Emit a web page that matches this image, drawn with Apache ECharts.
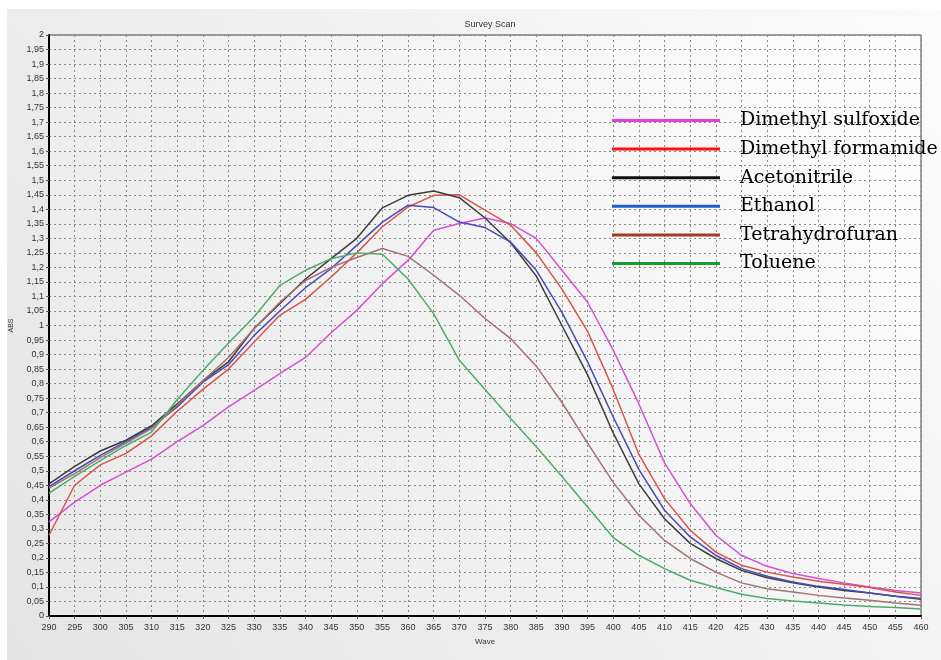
<!DOCTYPE html>
<html>
<head>
<meta charset="utf-8">
<script src="https://cdn.jsdelivr.net/npm/echarts@6/dist/echarts.min.js"></script>
<style>html,body{margin:0;padding:0;background:#fff}#c{width:941px;height:660px}</style>
</head>
<body>
<div id="c"></div>
<script>
const waves = [290,295,300,305,310,315,320,325,330,335,340,345,350,355,360,365,370,375,380,385,390,395,400,405,410,415,420,425,430,435,440,445,450,455,460];
const dmso = [0.324,0.392,0.45,0.495,0.54,0.60,0.655,0.72,0.777,0.834,0.89,0.975,1.052,1.144,1.224,1.328,1.351,1.37,1.351,1.30,1.19,1.08,0.915,0.73,0.527,0.387,0.278,0.209,0.171,0.146,0.129,0.114,0.10,0.088,0.079];
const dmf = [0.278,0.45,0.52,0.56,0.62,0.705,0.78,0.85,0.943,1.035,1.09,1.167,1.25,1.34,1.408,1.448,1.45,1.397,1.345,1.25,1.125,0.98,0.78,0.556,0.404,0.295,0.22,0.175,0.151,0.134,0.12,0.109,0.098,0.083,0.071];
const acetonitrile = [0.455,0.515,0.568,0.605,0.655,0.73,0.81,0.875,0.99,1.075,1.16,1.23,1.30,1.405,1.448,1.463,1.44,1.37,1.285,1.17,1.00,0.83,0.63,0.455,0.335,0.25,0.198,0.157,0.132,0.114,0.10,0.088,0.079,0.068,0.058];
const ethanol = [0.445,0.50,0.553,0.60,0.65,0.72,0.805,0.865,0.966,1.05,1.13,1.196,1.276,1.356,1.414,1.406,1.356,1.337,1.287,1.19,1.045,0.875,0.685,0.505,0.364,0.272,0.209,0.163,0.137,0.117,0.102,0.091,0.079,0.068,0.06];
const thf = [0.44,0.49,0.545,0.595,0.645,0.725,0.81,0.89,0.99,1.08,1.155,1.20,1.234,1.265,1.238,1.173,1.104,1.024,0.955,0.86,0.735,0.595,0.46,0.347,0.26,0.198,0.151,0.114,0.094,0.083,0.071,0.062,0.054,0.045,0.037];
const toluene = [0.423,0.481,0.535,0.587,0.633,0.745,0.845,0.94,1.03,1.138,1.19,1.23,1.25,1.245,1.16,1.04,0.88,0.78,0.68,0.583,0.48,0.375,0.27,0.209,0.163,0.123,0.098,0.075,0.06,0.052,0.045,0.038,0.033,0.029,0.024];

const seriesNames = ['Dimethyl sulfoxide','Dimethyl formamide','Acetonitrile','Ethanol','Tetrahydrofuran','Toluene'];
const seriesData = [dmso, dmf, acetonitrile, ethanol, thf, toluene];
const lineColors = ['#d64fd6','#d9534a','#3c3c3c','#4a4ab8','#a27272','#4cad68'];
const legendColors = ['#e040e0','#ff1010','#101010','#1a5fd0','#a0401c','#10a030'];

const chart = echarts.init(document.getElementById('c'));
const fmt = v => {
  const r = Math.round(v*100)/100;
  return String(r).replace('.', ',');
};
chart.setOption({
  animation: false,
  backgroundColor: '#ffffff',
  graphic: [{
    type: 'rect', z: -10, silent: true,
    shape: {x: 7, y: 9, width: 934, height: 651},
    style: {fill: new echarts.graphic.LinearGradient(0, 1, 1, 0, [
      {offset: 0, color: '#e4e4e4'}, {offset: 1, color: '#fbfbfb'}])}
  }],
  title: {
    text: 'Survey Scan', left: 485, top: 15, textAlign: 'center',
    textStyle: {fontFamily: 'Liberation Sans', fontSize: 9, fontWeight: 'normal', color: '#333'}
  },
  grid: {
    left: 48, right: 20, top: 35, bottom: 44, show: true,
    backgroundColor: new echarts.graphic.LinearGradient(0, 1, 1, 0, [
      {offset: 0, color: '#e8e8e8'}, {offset: 1, color: '#fdfdfd'}]),
    borderColor: '#444', borderWidth: 1
  },
  legend: {
    orient: 'vertical', left: 612, top: 111, padding: 0, itemWidth: 108, itemHeight: 3,
    itemGap: 9.6, icon: 'rect',
    textStyle: {fontFamily: 'DejaVu Serif', fontSize: 19, color: '#000', padding: [0,0,0,15]},
    data: seriesNames.map((n, i) => ({name: n, itemStyle: {color: legendColors[i]}}))
  },
  xAxis: {
    type: 'value', min: 290, max: 460, interval: 5,
    name: 'Wave', nameLocation: 'middle', nameGap: 22,
    nameTextStyle: {fontFamily: 'Liberation Sans', fontSize: 8, color: '#333'},
    axisLine: {onZero: false, lineStyle: {color: '#000', width: 2}},
    axisTick: {show: true, length: 3, lineStyle: {color: '#555'}},
    axisLabel: {fontFamily: 'Liberation Sans', fontSize: 9, color: '#333', margin: 7},
    splitLine: {show: true, lineStyle: {type: [2, 3], color: '#8a8a8a', width: 1}}
  },
  yAxis: {
    type: 'value', min: 0, max: 2, interval: 0.05,
    name: 'ABS', nameLocation: 'middle', nameGap: 34, nameRotate: 90,
    nameTextStyle: {fontFamily: 'Liberation Sans', fontSize: 7, color: '#333'},
    axisLine: {show: true, lineStyle: {color: '#000', width: 2}},
    axisTick: {show: true, length: 3, lineStyle: {color: '#555'}},
    axisLabel: {fontFamily: 'Liberation Sans', fontSize: 9, color: '#333', margin: 5, formatter: fmt},
    splitLine: {show: true, lineStyle: {type: [2, 3], color: '#8a8a8a', width: 1}}
  },
  series: seriesNames.map((n, i) => ({
    name: n, type: 'line', showSymbol: false, symbol: 'none',
    data: waves.map((w, k) => [w, seriesData[i][k]]),
    lineStyle: {color: lineColors[i], width: 1.5},
    itemStyle: {color: lineColors[i]}
  }))
});
</script>
</body>
</html>
